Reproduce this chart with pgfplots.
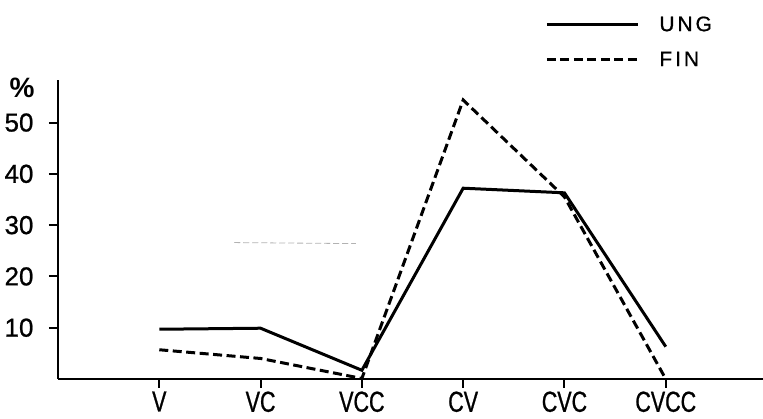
\documentclass[border=0pt]{standalone}
\usepackage{pgfplots}
\pgfplotsset{compat=1.18}
\usepackage{fontspec}
\setmainfont{Liberation Sans}
\newfontfamily\narrowfont{Liberation Sans}[FakeStretch=0.74, FakeBold=0.8]
\newfontfamily\numfont{Liberation Sans}[FakeBold=0.8]
\newfontfamily\legfont{Liberation Sans}[LetterSpace=14, FakeBold=0.8]
\begin{document}
\begin{tikzpicture}
\useasboundingbox (-58pt,-40pt) rectangle (705pt,379pt);
\begin{axis}[
  at={(0pt,0pt)}, anchor=south west,
  width=705pt, height=299pt, scale only axis,
  xmin=-1, xmax=5.96, ymin=0, ymax=58.3,
  axis x line=bottom, axis y line=left,
  axis line style={-, line width=2.6pt},
  xtick={0,1,2,3,4,5}, xticklabels={V,VC,VCC,CV,CVC,CVCC},
  ytick={10,20,30,40,50},
  tick align=outside, major tick length=9pt,
  tick style={line width=2pt, black},
  /pgf/number format/assume math mode=true,
  yticklabel style={font=\numfont\fontsize{26}{28}\selectfont, xshift=-12pt},
  xticklabel style={font=\narrowfont\fontsize{29}{30}\selectfont},
  clip=false,
  legend style={at={(axis cs:3.78,71.5)}, anchor=north west, draw=none, fill=none,
    font=\legfont\fontsize{21}{23}\selectfont, row sep=15pt,
    /tikz/every odd column/.append style={column sep=18pt}},
  legend cell align=left,
  legend image code/.code={\draw[#1] (0pt,0pt) -- (91pt,0pt);},
]
\addplot[black, line width=3pt] coordinates {(0,9.7)(1,9.9)(2,1.7)(3,37.2)(4,36.3)(5,6.3)};
\addlegendentry{UNG}
\addplot[black, line width=3pt, dash pattern=on 9pt off 4.5pt] coordinates {(0,5.7)(1,4.0)(2,0.1)(3,54.4)(4,35.5)(5,0)};
\addlegendentry{FIN}
\addplot[gray!60, line width=0.8pt, dash pattern=on 6pt off 3pt, forget plot] coordinates {(0.74,26.6)(1.94,26.4)};
\node[font=\bfseries\fontsize{28}{30}\selectfont] at (rel axis cs:0,1) [xshift=-36pt, yshift=-8pt] {\%};
\end{axis}
\end{tikzpicture}
\end{document}
